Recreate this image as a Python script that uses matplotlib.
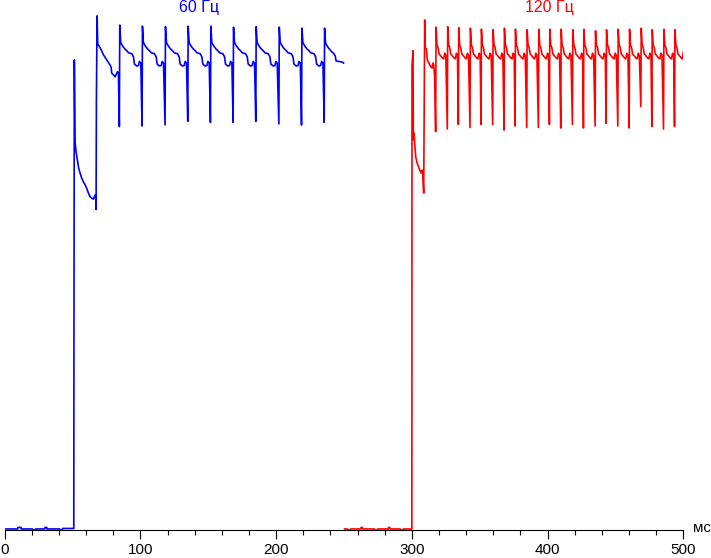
import matplotlib.pyplot as plt
from matplotlib.ticker import MultipleLocator

plt.rcParams['font.family'] = ['Liberation Sans', 'DejaVu Sans']

# time in ms, brightness in % (0 = black level)
# --- 60 Hz (blue): black level, first transition and first refresh period
blue_head_t = [0.0, 9.5, 9.7, 12.0, 12.2, 20.5, 20.7, 22.5, 22.7, 29.5, 29.7, 31.0, 31.2,
               40.5, 40.7, 42.5, 42.7, 50.9, 51.0, 51.3, 51.84, 52.58, 53.56, 54.55, 55.53,
               56.76, 57.99, 59.22, 60.45, 61.67, 62.91, 64.14, 65.36, 66.10, 66.60, 67.09,
               67.33, 67.57, 68.07, 68.56, 69.05, 69.79, 70.77, 71.76, 72.74, 73.97, 75.20,
               76.42, 77.65, 78.39, 78.88, 80.11, 81.34, 82.57, 83.06, 83.80]
blue_head_v = [0.0, 0.0, 0.3, 0.3, 0.0, 0.0, -0.2, -0.2, 0.0, 0.0, 0.3, 0.3, 0.0,
               0.0, -0.2, -0.2, 0.1, 0.1, 30.8, 91.6, 75.6, 73.7, 72.1, 70.4, 69.5,
               68.5, 67.8, 67.2, 66.5, 65.6, 64.9, 64.6, 64.4, 64.9, 65.2, 64.6,
               62.4, 83.8, 100.2, 94.5, 94.5, 94.2, 93.7, 93.2, 92.6, 92.1, 91.6,
               91.1, 90.6, 90.2, 89.0, 88.7, 88.3, 89.0, 89.3, 89.0]
# refresh spikes: time, peak, dip just before the peak
blue_spike_t = [84.78, 101.50, 118.46, 135.18, 151.89, 168.60, 185.30, 202.30, 219.00, 235.70]
blue_spike_top = [98.4, 98.2, 98.1, 98.2, 98.2, 98.0, 98.1, 98.0, 97.8, 97.8]
blue_spike_dip = [78.6, 78.7, 78.9, 79.6, 79.4, 79.4, 79.6, 79.1, 78.9, 79.4]
# decay between two spikes (offset from the spike, ms)
blue_shape_dt = [0.7, 1.5, 2.7, 3.9, 5.2, 6.4, 8.9, 10.1, 10.8, 12.5, 13.8, 14.5, 15.5]
blue_shape_v = [95.0, 94.6, 94.1, 93.7, 93.4, 93.0, 92.8, 92.2, 90.8, 90.4, 90.5, 91.3, 91.0]
blue_tail_t = [236.40, 237.20, 238.40, 239.60, 240.90, 242.30, 243.50, 244.20, 246.00, 248.50, 249.70]
blue_tail_v = [94.9, 94.5, 94.0, 93.6, 93.2, 92.9, 92.4, 91.4, 91.3, 91.2, 91.0]

# --- 120 Hz (red)
red_head_t = [250.4, 252.4, 252.6, 254.7, 254.9, 262.4, 262.6, 263.6, 263.8, 272.4, 272.6,
              274.6, 274.8, 282.6, 282.8, 283.8, 284.0, 291.4, 291.6, 293.6, 293.8, 300.0,
              300.12, 300.86, 301.10, 301.60, 302.09, 302.83, 303.81, 304.79, 305.78,
              306.76, 307.50, 307.99, 308.72, 309.46, 309.90, 310.70, 311.40, 312.40,
              313.60, 314.90, 315.60, 316.10, 316.80]
red_head_v = [0.0, 0.0, -0.2, -0.2, 0.0, 0.0, 0.3, 0.3, 0.0, 0.0, -0.2,
              -0.2, 0.0, 0.0, 0.3, 0.3, 0.0, 0.0, -0.2, -0.2, 0.0, 0.0,
              90.6, 93.4, 76.0, 77.3, 75.4, 72.7, 71.5, 70.8, 70.1,
              69.5, 70.1, 69.5, 65.6, 99.4, 94.1, 93.7, 91.6, 91.1,
              90.4, 90.0, 91.0, 90.6, 88.3]
red_spike_t = [317.82, 326.42, 334.54, 343.14, 351.25, 359.86, 368.22, 376.33, 384.93, 393.53, 401.64,
               410.01, 418.61, 426.72, 435.32, 443.44, 452.04, 460.40, 469.00, 477.11, 485.72, 493.83]
red_spike_top = [98.0, 98.1, 97.9, 97.8, 97.6, 97.5, 97.8, 97.6, 97.5, 97.6, 97.6,
                 97.6, 97.5, 97.6, 97.3, 97.5, 97.6, 97.6, 97.8, 97.5, 97.6, 97.5]
red_spike_dip = [77.6, 78.1, 79.0, 78.4, 79.0, 79.0, 77.9, 78.7, 78.4, 78.4, 79.0,
                 78.3, 79.0, 78.3, 78.7, 79.2, 78.7, 78.3, 82.5, 78.6, 78.1, 78.6]
red_shape_dt = [0.7, 1.5, 2.2, 3.4, 4.6, 5.6, 6.4, 7.2]
red_shape_v = [94.5, 94.0, 92.8, 92.4, 92.0, 91.8, 92.9, 92.5]
red_tail_t = [494.53, 495.33, 496.03, 497.23, 498.43, 499.40, 500.0]
red_tail_v = [94.5, 94.0, 92.8, 92.4, 92.0, 91.8, 93.2]


def build(head_t, head_v, spikes, tops, dips, shape_dt, shape_v, tail_t, tail_v):
    t, v = list(head_t), list(head_v)
    for i, (ts, top, dip) in enumerate(zip(spikes, tops, dips)):
        t += [ts - 0.3, ts]
        v += [dip, top]
        if i < len(spikes) - 1:
            t += [ts + d for d in shape_dt]
            v += list(shape_v)
    return t + list(tail_t), v + list(tail_v)


bt, bv = build(blue_head_t, blue_head_v, blue_spike_t, blue_spike_top, blue_spike_dip,
               blue_shape_dt, blue_shape_v, blue_tail_t, blue_tail_v)
rt, rv = build(red_head_t, red_head_v, red_spike_t, red_spike_top, red_spike_dip,
               red_shape_dt, red_shape_v, red_tail_t, red_tail_v)

fig = plt.figure(figsize=(7.11, 5.58), dpi=100)
ax = fig.add_axes([4.7 / 711, 28 / 558, 678.6 / 711, 530 / 558])

ax.plot(bt, bv, color='#0000ff', lw=1.2)
ax.plot(rt, rv, color='#ff0000', lw=1.2)

ax.set_xlim(0, 500)
ax.set_ylim(-0.2, 103.3)

for s in ['left', 'right', 'top']:
    ax.spines[s].set_visible(False)
ax.spines['bottom'].set_linewidth(0.8)
ax.set_yticks([])
ax.xaxis.set_major_locator(MultipleLocator(100))
ax.xaxis.set_minor_locator(MultipleLocator(20))
ax.tick_params(axis='x', which='major', length=6.5, width=0.8, labelsize=11, pad=3)
ax.tick_params(axis='x', which='minor', length=3.6, width=0.8)

ax.text(143, 101.9, '60 Гц', color='#0000ff', fontsize=11.5, ha='center', va='center')
ax.text(401.6, 101.9, '120 Гц', color='#ff0000', fontsize=11.5, ha='center', va='center')
ax.text(507.5, 0.2, 'мс', fontsize=11, ha='left', va='center', clip_on=False)

fig.savefig('out.png', dpi=100)
